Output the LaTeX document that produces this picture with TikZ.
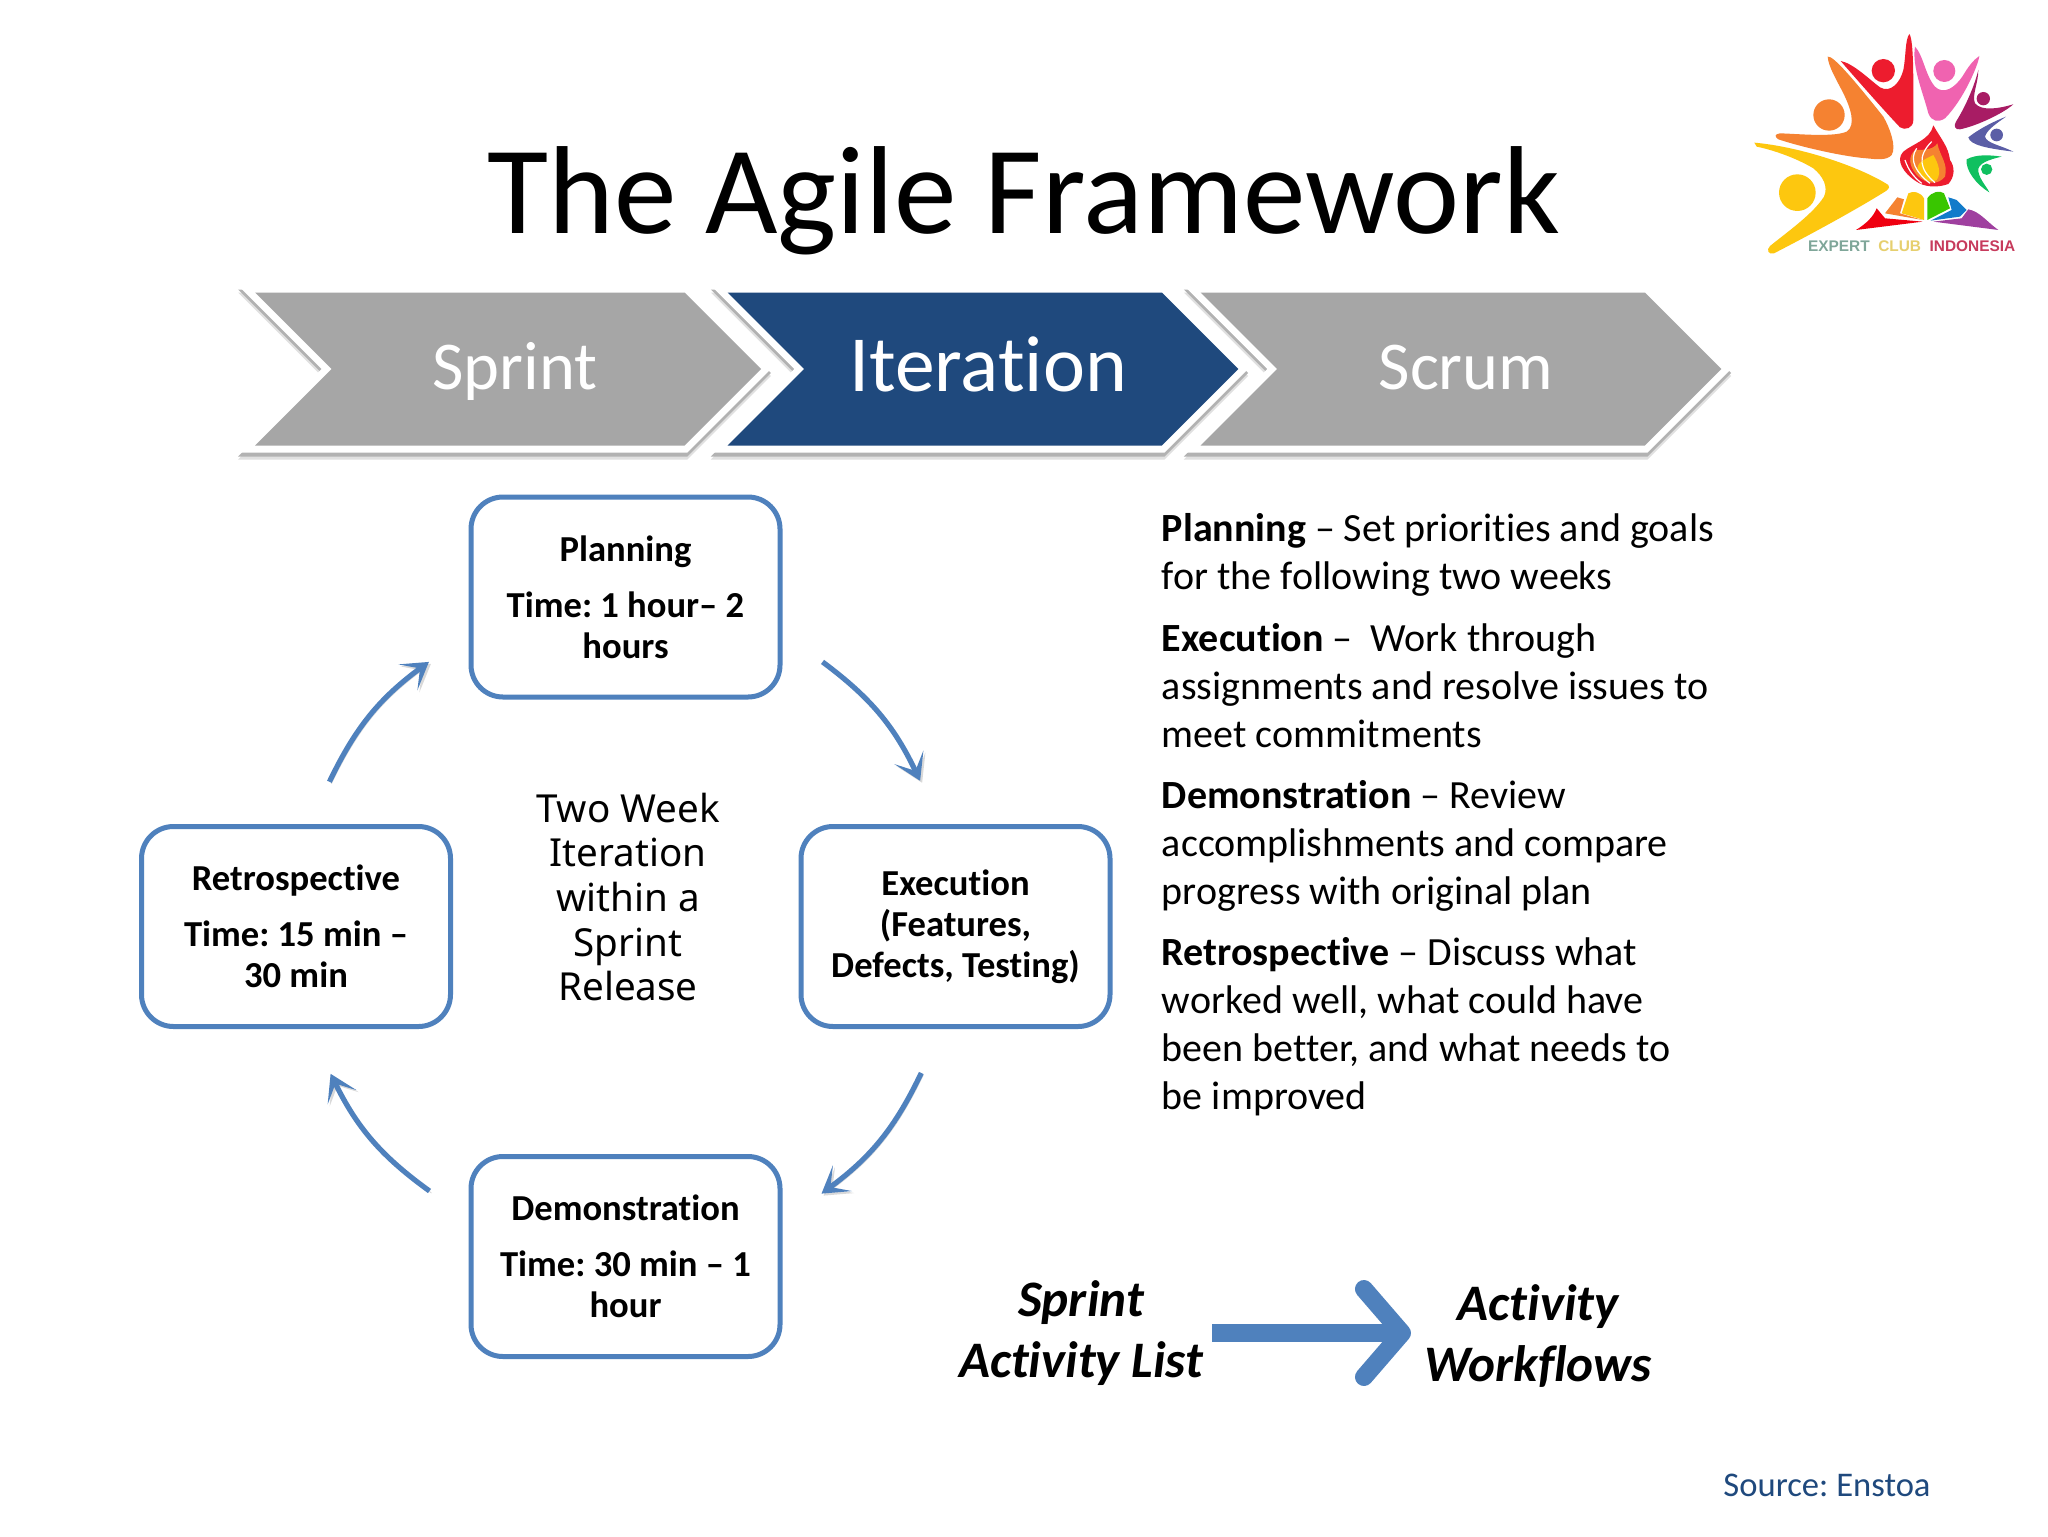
\documentclass[tikz,border=0pt]{standalone}
\usepackage{fontspec}
\setmainfont[Ligatures=CommonOff]{Carlito}
\newfontfamily\centerfont{Noto Sans}
\newfontfamily\logofont{Liberation Sans}
\usetikzlibrary{shapes.symbols,arrows.meta}

\definecolor{chevgray}{HTML}{A6A6A6}
\definecolor{chevblue}{HTML}{1F497D}
\definecolor{linkblue}{HTML}{4F81BD}
\definecolor{logoyellow}{HTML}{FDC70F}
\definecolor{logoorange}{HTML}{F58231}
\definecolor{logored}{HTML}{ED1C2E}
\definecolor{logopink}{HTML}{F063B0}
\definecolor{logoplum}{HTML}{A81C64}
\definecolor{logoslate}{HTML}{5B5EA6}
\definecolor{logogreen}{HTML}{10C060}
\definecolor{logotexta}{HTML}{7FA699}
\definecolor{logotextb}{HTML}{E6CF6E}
\definecolor{logotextc}{HTML}{C73B5C}

\tikzset{
  chev/.style={signal,signal to=east,signal from=west,signal pointer angle=90,
    minimum height=76.5pt,inner sep=0pt,text=white,fill=#1,
    preaction={draw=black!12,line width=7pt,transform canvas={shift={(0pt,-3.5pt)}}},
    preaction={draw=black!30,line width=7pt,transform canvas={shift={(0pt,-2pt)}}},
    preaction={draw=white,line width=7pt}},
  cyclebox/.style={draw=linkblue,line width=2.5pt,rounded corners=16pt,minimum width=154.5pt,
    minimum height=100pt,align=center,font=\fontsize{18.3}{20.5}\selectfont\bfseries},
  cyclelink/.style={draw=linkblue,line width=2.6pt,
    -{Stealth[length=13pt,width=16pt,inset=7.5pt]},
    preaction={draw=black!15,transform canvas={shift={(1pt,-1pt)}}}},
  descr/.style={anchor=north west,align=left,inner sep=0pt,
    font=\fontsize{20}{24}\selectfont},
  listtext/.style={align=center,font=\fontsize{25.6}{30.5}\selectfont\bfseries\itshape},
}

\begin{document}
\frenchspacing
\begin{tikzpicture}[x=0.5pt,y=-0.5pt]
\useasboundingbox (0,0) rectangle (2048,1536);
\fill[white] (0,0) rectangle (2048,1536);

% title
\node (title) at (1024,201) {\fontsize{62.6}{66}\selectfont The Agile Framework};

% chevrons
\node[chev=chevgray,minimum width=253pt,text height=26pt,text depth=6pt,font=\fontsize{34.2}{38}\selectfont] (sprint) at (508,369) {\hspace*{7pt}Sprint};
\node[chev=chevblue,minimum width=255.3pt,text height=28pt,text depth=6pt,font=\fontsize{39.8}{44}\selectfont] (iteration) at (983,369) {\hspace*{5pt}Iteration};
\node[chev=chevgray,minimum width=260.3pt,text height=26pt,text depth=6pt,font=\fontsize{34.2}{38}\selectfont] (scrum) at (1461,369) {\hspace*{5pt}Scrum};

% cycle boxes
\node[cyclebox] (planning) at (625.5,597) {Planning\\[7.5pt]Time: 1 hour– 2\\hours};
\node[cyclebox] (execution) at (955.5,926.5) {Execution\\(Features,\\Defects, Testing)};
\node[cyclebox] (demonstration) at (625.5,1256.5) {Demonstration\\[7.5pt]Time: 30 min – 1\\hour};
\node[cyclebox] (retrospective) at (296,926.5) {Retrospective\\[7.5pt]Time: 15 min –\\30 min};
\node[align=center,font=\centerfont\fontsize{19.3}{22.3}\selectfont] (twoweek) at (628,897) {Two Week\\Iteration\\within a\\Sprint\\Release};

% cycle arrows
\draw[cyclelink] ([xshift=20pt,yshift=18.8pt]planning.south east) to[bend left=14] ([xshift=-17.7pt,yshift=21.6pt]execution.north);
\draw[cyclelink] ([xshift=-17.1pt,yshift=-22pt]execution.south) to[bend left=14] ([xshift=19.5pt,yshift=-19.8pt]demonstration.north east);
\draw[cyclelink] ([xshift=-19.5pt,yshift=-18.5pt]demonstration.north west) to[bend left=14] ([xshift=17.3pt,yshift=-22.4pt]retrospective.south);
\draw[cyclelink] ([xshift=16.7pt,yshift=21.1pt]retrospective.north) to[bend left=14] ([xshift=-19.8pt,yshift=18.8pt]planning.south west);

% descriptions
\node[descr] (planningtext) at (1161.5,513) {\textbf{Planning} – Set priorities and goals\\for the following two weeks};
\node[descr] (executiontext) at (1161.5,623) {\textbf{Execution} –\ \ Work through\\assignments and resolve issues to\\meet commitments};
\node[descr] (demotext) at (1161.5,780.5) {\textbf{Demonstration} – Review\\accomplishments and compare\\progress with original plan};
\node[descr] (retrotext) at (1161.5,937.5) {\textbf{Retrospective} – Discuss what\\worked well, what could have\\been better, and what needs to\\be improved};

% bottom arrow
\node[listtext] (activitylist) at (1081,1333) {Sprint\\Activity List};
\node[listtext] (workflows) at (1538,1336) {Activity\\Workflows};
\draw[draw=linkblue,line width=9pt,shorten <=1pt,shorten >=3pt,
  -{Straight Barb[length=19pt,width=44pt,round]},
  preaction={draw=black!15,transform canvas={shift={(0pt,-2pt)}}}] (activitylist.east) -- (activitylist.east -| workflows.west);

% source
\node[text=chevblue,font=\fontsize{17.3}{21}\selectfont] (source) at (1827,1485) {Source: Enstoa};

% logo
\begin{scope}[shift={(1700,0)},scale=0.3333]
\fill[logoyellow] (163,428) .. controls (300,440) and (480,500) .. (565,555) .. controls (572,565) and (560,572) .. (550,578) .. controls (450,640) and (300,720) .. (222,760) .. controls (205,765) and (198,750) .. (210,738) .. controls (270,690) and (340,640) .. (372,590) .. controls (385,560) and (370,530) .. (340,505) .. controls (290,475) and (220,450) .. (170,440) -- cycle;
\fill[logoyellow] (292,578) circle (55);
\fill[logoorange] (383,170) .. controls (400,165) and (470,250) .. (550,350) .. controls (570,385) and (590,440) .. (575,465) .. controls (560,482) and (530,478) .. (500,475) .. controls (430,470) and (300,440) .. (235,418) .. controls (222,410) and (225,402) .. (240,400) .. controls (300,402) and (400,412) .. (440,395) .. controls (470,375) and (450,320) .. (430,280) .. controls (410,240) and (385,200) .. (383,170) -- cycle;
\fill[logoorange] (387,345) circle (47);
\fill[logored] (422,183) .. controls (460,190) and (510,240) .. (540,262) .. controls (570,280) and (600,250) .. (610,210) .. controls (618,170) and (615,120) .. (628,102) .. controls (642,120) and (640,250) .. (640,360) .. controls (640,385) and (615,392) .. (600,382) .. controls (560,340) and (480,250) .. (422,183) -- cycle;
\fill[logored] (550,212) circle (35);
\fill[logopink] (645,140) .. controls (670,165) and (675,225) .. (705,260) .. controls (730,285) and (765,265) .. (790,225) .. controls (805,200) and (820,180) .. (838,168) .. controls (835,195) and (790,300) .. (735,355) .. controls (715,368) and (695,365) .. (685,340) .. controls (670,280) and (635,200) .. (645,140) -- cycle;
\fill[logopink] (733,213) circle (33);
\fill[logoplum] (835,210) .. controls (835,250) and (815,285) .. (825,310) .. controls (845,335) and (900,325) .. (940,313) .. controls (910,340) and (830,378) .. (780,388) .. controls (765,390) and (760,378) .. (768,365) .. controls (790,330) and (820,270) .. (835,210) -- cycle;
\fill[logoplum] (850,296) circle (20);
\fill[logoslate] (918,350) .. controls (880,365) and (840,385) .. (805,412) .. controls (810,435) and (860,445) .. (940,455) .. controls (900,435) and (860,430) .. (855,410) .. controls (860,390) and (890,370) .. (918,350) -- cycle;
\fill[logoslate] (890,405) circle (19);
\fill[logogreen] (800,478) .. controls (830,462) and (870,465) .. (905,470) .. controls (870,478) and (830,490) .. (835,515) .. controls (840,540) and (860,560) .. (868,577) .. controls (830,555) and (795,510) .. (800,478) -- cycle;
\fill[logogreen] (860,508) circle (17);
% flame
\fill[logored] (700,376) .. controls (725,420) and (745,440) .. (750,480) .. controls (765,500) and (765,530) .. (745,552) .. controls (710,565) and (670,560) .. (650,545) .. controls (610,520) and (585,480) .. (610,455) .. controls (640,430) and (690,420) .. (700,376) -- cycle;
\fill[logoorange] (712,430) .. controls (720,470) and (745,490) .. (735,530) .. controls (715,555) and (680,555) .. (650,525) .. controls (625,495) and (625,470) .. (645,450) .. controls (670,450) and (700,450) .. (712,430) -- cycle;
\fill[logoyellow] (700,465) .. controls (715,490) and (725,520) .. (710,540) .. controls (690,550) and (670,540) .. (655,515) .. controls (645,490) and (670,480) .. (700,465) -- cycle;
\draw[white,line width=0.6pt] (615,480) .. controls (625,510) and (640,530) .. (665,550);
\draw[white,line width=0.6pt] (650,445) .. controls (625,480) and (650,520) .. (690,550);
\draw[white,line width=0.6pt] (695,425) .. controls (650,470) and (660,510) .. (705,548);
% book
\fill[red!75!purple] (468,690) .. controls (500,670) and (520,650) .. (530,625) -- (555,655) -- (668,665) -- cycle;
\fill[logoorange] (555,640) -- (592,592) -- (612,598) -- (600,640) -- (668,660) -- cycle;
\fill[logoyellow] (605,640) -- (625,580) .. controls (640,572) and (660,575) .. (672,595) -- (672,660) -- cycle;
\fill[green!55!olive] (682,660) -- (682,595) .. controls (695,575) and (720,570) .. (732,580) -- (750,625) -- cycle;
\fill[cyan!60!blue] (692,662) -- (755,630) -- (745,592) -- (770,600) -- (800,630) -- (780,650) -- cycle;
\fill[violet!75!white] (700,665) -- (785,655) -- (805,628) .. controls (840,635) and (860,665) .. (895,690) -- cycle;
\node[font=\logofont\bfseries\fontsize{7.7}{10}\selectfont,inner sep=0pt] (logotext) at (635,738) {\textcolor{logotexta}{EXPERT}\ \ \textcolor{logotextb}{CLUB}\ \ \textcolor{logotextc}{INDONESIA}};
\end{scope}
\end{tikzpicture}
\end{document}
